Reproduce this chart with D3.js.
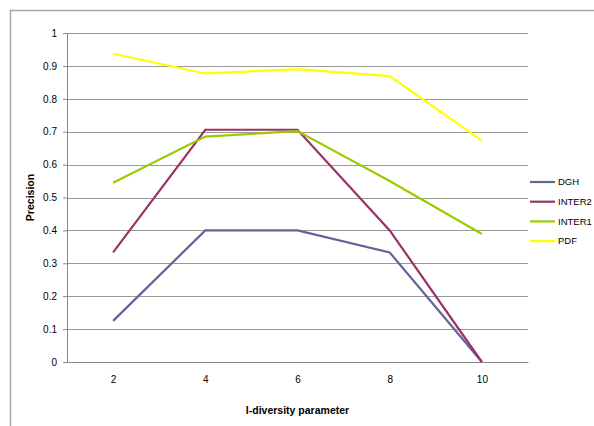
<!DOCTYPE html>
<html>
<head>
<meta charset="utf-8">
<script src="https://cdn.jsdelivr.net/npm/d3@7"></script>
<style>
  body { margin: 0; background: #fff; }
  svg { display: block; font-family: "Liberation Sans", Arial, sans-serif; }
</style>
</head>
<body>
<div id="chart"></div>
<script>
// data
const categories = ["2", "4", "6", "8", "10"];
const seriesNames = ["DGH", "INTER2", "INTER1", "PDF"];
const dgh    = [0.125, 0.4, 0.4, 0.333, 0];
const inter2 = [0.333, 0.706, 0.706, 0.4, 0];
const inter1 = [0.545, 0.685, 0.702, 0.55, 0.389];
const pdf    = [0.937, 0.877, 0.89, 0.869, 0.673];
const yTicks = [0, 0.1, 0.2, 0.3, 0.4, 0.5, 0.6, 0.7, 0.8, 0.9, 1];
const colors = ["#63639c", "#993366", "#99cc00", "#ffff00"];

const series = [dgh, inter2, inter1, pdf].map((vals, i) => ({
  name: seriesNames[i], color: colors[i], values: vals
}));

const W = 594, H = 426;
const margin = {top: 33, right: 66, bottom: 64, left: 67},
    width = W - margin.left - margin.right,
    height = H - margin.top - margin.bottom;

const svg = d3.select("#chart")
  .append("svg")
    .attr("width", W)
    .attr("height", H);

// outer frame (cropped on right and bottom)
svg.append("path")
  .attr("d", "M10.5," + (H + 5) + "V10.5H" + (W + 5))
  .attr("fill", "none")
  .attr("stroke", "#a6a6a6")
  .attr("stroke-width", 1.5);

const g = svg.append("g")
  .attr("transform", "translate(" + margin.left + "," + margin.top + ")");

const x = d3.scalePoint()
  .domain(categories)
  .range([0, width])
  .padding(0.5);

const y = d3.scaleLinear()
  .domain([0, 1])
  .range([height, 0]);

// gridlines
g.append("g")
  .selectAll("line")
  .data(yTicks.filter(d => d > 0))
  .enter()
  .append("line")
    .attr("x1", 0)
    .attr("x2", width)
    .attr("y1", d => Math.round(y(d)) + 0.5)
    .attr("y2", d => Math.round(y(d)) + 0.5)
    .attr("stroke", "#999")
    .attr("stroke-width", 1);

// y axis
const yAxis = g.append("g")
  .call(d3.axisLeft(y).tickValues(yTicks).tickFormat(d => d3.format("")(d)).tickSize(4).tickPadding(6))
yAxis.select(".domain").attr("stroke", "#888");
yAxis.selectAll(".tick line").attr("stroke", "#888");
yAxis.selectAll("text").attr("font-size", 10).attr("fill", "#000")
  .attr("font-family", "'Liberation Sans', Arial, sans-serif");

// x axis
const xAxis = g.append("g")
  .attr("transform", "translate(0," + height + ")")
  .call(d3.axisBottom(x).tickSize(0).tickPadding(14));
xAxis.select(".domain").attr("stroke", "#888");
xAxis.selectAll("text").attr("font-size", 10).attr("fill", "#000")
  .attr("font-family", "'Liberation Sans', Arial, sans-serif");

// axis titles
g.append("text")
  .attr("x", width / 2)
  .attr("y", height + 52)
  .attr("text-anchor", "middle")
  .attr("font-size", 10.5)
  .attr("font-weight", "bold")
  .text("l-diversity parameter");

g.append("text")
  .attr("transform", "translate(-33," + (height / 2) + ") rotate(-90)")
  .attr("text-anchor", "middle")
  .attr("font-size", 10.5)
  .attr("font-weight", "bold")
  .text("Precision");

// lines
const line = d3.line()
  .x((d, i) => x(categories[i]))
  .y(d => y(d));

g.selectAll(".series")
  .data(series)
  .enter()
  .append("path")
    .attr("class", "series")
    .attr("d", d => line(d.values))
    .attr("fill", "none")
    .attr("stroke", d => d.color)
    .attr("stroke-width", 2.2)
    .attr("stroke-linejoin", "miter");

// legend
const legend = svg.append("g")
  .attr("transform", "translate(530,182)");
const item = legend.selectAll("g")
  .data(series)
  .enter()
  .append("g")
    .attr("transform", (d, i) => "translate(0," + (i * 19.7) + ")");
item.append("line")
  .attr("x1", 0).attr("x2", 25)
  .attr("stroke", d => d.color)
  .attr("stroke-width", 2.2);
item.append("text")
  .attr("x", 28)
  .attr("dy", "0.35em")
  .attr("font-size", 9.5)
  .text(d => d.name);
</script>
</body>
</html>
